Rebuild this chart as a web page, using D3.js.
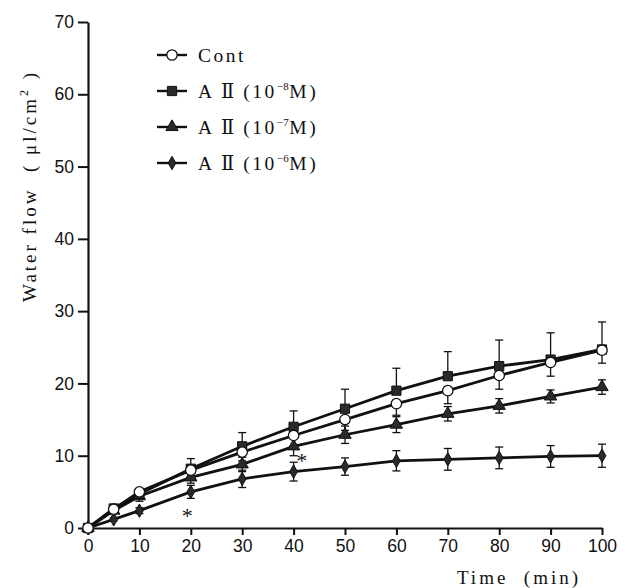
<!DOCTYPE html>
<html>
<head>
<meta charset="utf-8">
<script src="https://cdn.jsdelivr.net/npm/d3@7"></script>
<style>
  html, body { margin: 0; padding: 0; background: #fff; }
  svg { display: block; }
  .tick text { font-family: "Liberation Sans", "DejaVu Sans", sans-serif; }
</style>
</head>
<body>
<svg id="chart" width="627" height="588"></svg>
<script>
// Sampling times (min)
const times = [0, 5, 10, 20, 30, 40, 50, 60, 70, 80, 90, 100];

// Cumulative water flow (µl/cm²) and SE for each group
const contMean  = [0, 2.6, 5.0, 8.0, 10.5, 12.8, 15.0, 17.2, 19.0, 21.1, 22.9, 24.6];
const contSE    = [0, 0.3, 0.9, 0.8, 1.2, 1.5, 1.5, 1.6, 1.8, 1.9, 1.9, 1.8];
const a8Mean    = [0, 2.7, 4.7, 8.2, 11.3, 14.0, 16.5, 19.0, 21.0, 22.4, 23.3, 24.7];
const a8SE      = [0, 0.3, 0.6, 1.4, 1.9, 2.2, 2.7, 3.1, 3.4, 3.6, 3.7, 3.8];
const a7Mean    = [0, 2.4, 4.4, 7.0, 8.8, 11.3, 12.9, 14.3, 15.8, 16.9, 18.2, 19.5];
const a7SE      = [0, 0.3, 0.7, 0.8, 1.0, 1.3, 1.2, 1.1, 1.0, 1.0, 0.9, 1.0];
const a6Mean    = [0, 1.2, 2.4, 5.0, 6.8, 7.8, 8.5, 9.3, 9.5, 9.7, 9.9, 10.0];
const a6SE      = [0, 0.2, 0.4, 0.9, 1.2, 1.3, 1.2, 1.4, 1.5, 1.5, 1.5, 1.6];

// Axis tick values
const xTicks = [0, 10, 20, 30, 40, 50, 60, 70, 80, 90, 100];
const yTicks = [0, 10, 20, 30, 40, 50, 60, 70];

// Significance marks (time, flow)
const starX = [19.3, 41.6];
const starY = [2.2, 9.8];

const series = [
  { label: "Cont", exp: null, mean: contMean, se: contSE, symbol: "circle", err: "down" },
  { label: "AⅡ", exp: "-8", mean: a8Mean, se: a8SE, symbol: "square", err: "up" },
  { label: "AⅡ", exp: "-7", mean: a7Mean, se: a7SE, symbol: "triangle", err: "both" },
  { label: "AⅡ", exp: "-6", mean: a6Mean, se: a6SE, symbol: "diamond", err: "both" }
];

const serif = "Liberation Serif, DejaVu Serif, serif";
const svg = d3.select("#chart");
const x = d3.scaleLinear().domain([0, 100]).range([88, 602]);
const y = d3.scaleLinear().domain([0, 70]).range([528, 22]);

// Axes
const xAxis = svg.append("g")
  .attr("transform", `translate(0,${y(0)})`)
  .call(d3.axisBottom(x).tickValues(xTicks).tickSize(7).tickSizeOuter(0).tickPadding(5));
const yAxis = svg.append("g")
  .attr("transform", `translate(${x(0)},0)`)
  .call(d3.axisLeft(y).tickValues(yTicks).tickSize(10).tickSizeOuter(0).tickPadding(4));
[xAxis, yAxis].forEach(g => {
  g.select(".domain").attr("stroke", "#111").attr("stroke-width", 2.2);
  g.selectAll(".tick line").attr("stroke", "#111").attr("stroke-width", 2);
  g.selectAll(".tick text").attr("fill", "#111").attr("font-size", 17.5);
});

// Axis titles
svg.append("text")
  .attr("x", 519).attr("y", 584)
  .attr("text-anchor", "middle")
  .attr("font-family", serif)
  .attr("font-size", 19).attr("letter-spacing", 3)
  .attr("fill", "#111")
  .text("Time\u00a0\u00a0(min)");

const yTitle = svg.append("text")
  .attr("transform", "translate(36,186) rotate(-90)")
  .attr("text-anchor", "middle")
  .attr("font-family", serif)
  .attr("font-size", 19).attr("letter-spacing", 3)
  .attr("fill", "#111");
yTitle.append("tspan").text("Water flow\u00a0\u00a0(\u00a0μl/cm");
yTitle.append("tspan").attr("dy", -8).attr("font-size", 12).text("2");
yTitle.append("tspan").attr("dy", 8).text("\u00a0)");

// Symbol generators
const symbolType = {
  circle: d3.symbolCircle,
  square: d3.symbolSquare,
  triangle: d3.symbolTriangle,
  diamond: d3.symbolDiamond
};
const symbolSize = { circle: 85, square: 85, triangle: 66, diamond: 52 };

function drawSymbol(g, kind, cx, cy) {
  g.append("path")
    .attr("d", d3.symbol().type(symbolType[kind]).size(symbolSize[kind])())
    .attr("transform", `translate(${cx},${cy})`)
    .attr("fill", kind === "circle" ? "#fff" : "#2a2a2a")
    .attr("stroke", "#111")
    .attr("stroke-width", kind === "circle" ? 1.3 : 1);
}

const line = d3.line().x(d => x(d[0])).y(d => y(d[1]));

// Error bars
const capW = 4;
series.forEach(s => {
  const g = svg.append("g");
  times.forEach((t, i) => {
    if (s.se[i] <= 0) return;
    const top = s.err === "down" ? s.mean[i] : s.mean[i] + s.se[i];
    const bot = s.err === "up" ? s.mean[i] : s.mean[i] - s.se[i];
    g.append("line").attr("x1", x(t)).attr("x2", x(t)).attr("y1", y(top)).attr("y2", y(bot))
      .attr("stroke", "#111").attr("stroke-width", 1.3);
    if (s.err !== "down")
      g.append("line").attr("x1", x(t) - capW).attr("x2", x(t) + capW).attr("y1", y(top)).attr("y2", y(top))
        .attr("stroke", "#111").attr("stroke-width", 1.3);
    if (s.err !== "up")
      g.append("line").attr("x1", x(t) - capW).attr("x2", x(t) + capW).attr("y1", y(bot)).attr("y2", y(bot))
        .attr("stroke", "#111").attr("stroke-width", 1.3);
  });
});

// Lines and markers
series.slice().reverse().forEach(s => {
  const pts = times.map((t, i) => [t, s.mean[i]]);
  svg.append("path").datum(pts).attr("d", line)
    .attr("fill", "none").attr("stroke", "#111").attr("stroke-width", 2.8);
});
series.slice().reverse().forEach(s => {
  const g = svg.append("g");
  times.forEach((t, i) => drawSymbol(g, s.symbol, x(t), y(s.mean[i])));
});

// Significance asterisks
starX.forEach((sx, i) => {
  svg.append("text")
    .attr("x", x(sx)).attr("y", y(starY[i]) + 11)
    .attr("text-anchor", "middle")
    .attr("font-family", serif)
    .attr("font-size", 22).attr("fill", "#111")
    .text("*");
});

// Legend
const legend = svg.append("g").attr("transform", "translate(157,55)");
series.forEach((s, i) => {
  const row = legend.append("g").attr("transform", `translate(0,${i * 36})`);
  row.append("line").attr("x1", 0).attr("x2", 30).attr("y1", 0).attr("y2", 0)
    .attr("stroke", "#111").attr("stroke-width", 2.4);
  drawSymbol(row, s.symbol, 15, 0);
  const t = row.append("text")
    .attr("x", 41).attr("y", 7)
    .attr("font-family", serif)
    .attr("font-size", 19.5).attr("letter-spacing", 2.5)
    .attr("fill", "#111");
  if (s.exp === null) {
    t.text(s.label);
  } else {
    t.append("tspan").text("A\u2009Ⅱ\u2009(10");
    t.append("tspan").attr("dy", -8).attr("font-size", 11).attr("letter-spacing", 0.5).text(s.exp.replace("-", "−"));
    t.append("tspan").attr("dy", 8).text("M)");
  }
});
</script>
</body>
</html>
